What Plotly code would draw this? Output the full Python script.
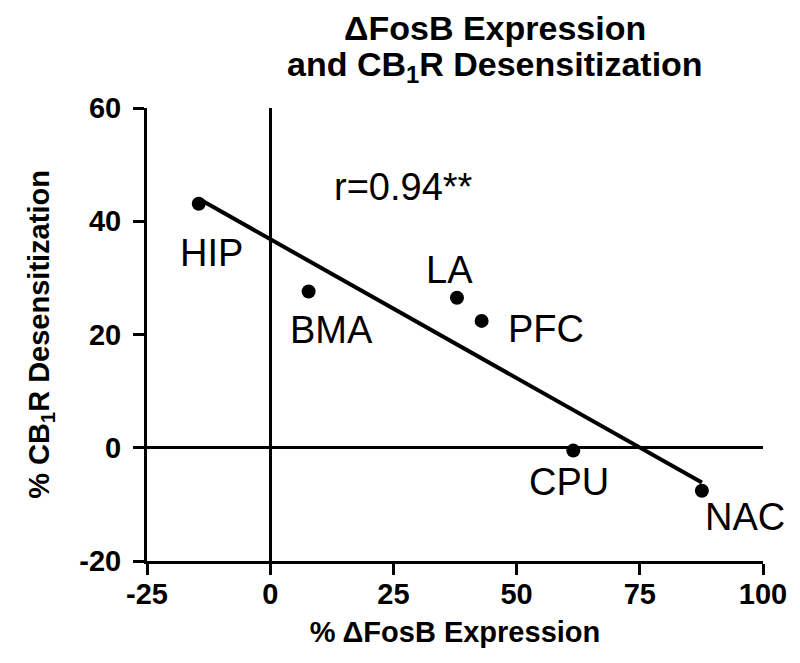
import numpy as np
import plotly.graph_objects as go

# brain regions, % deltaFosB expression vs % CB1R desensitization
regions = ["HIP", "BMA", "LA", "PFC", "CPU", "NAC"]
fosb = [-14.5, 7.8, 37.9, 42.9, 61.5, 87.6]
cb1r = [43.1, 27.6, 26.5, 22.4, -0.5, -7.6]
x_ticks = [-25, 0, 25, 50, 75, 100]
x_ticktext = ["-25", "0", "25", "50", "75", "100"]
y_ticks = [-20, 0, 20, 40, 60]
y_ticktext = ["-20", "0", "20", "40", "60"]
r_text = "r=0.94**"
title_lines = ["\u0394FosB Expression", "and CB<sub>1</sub>R Desensitization"]

# label offsets in px (dx, dy)
label_shift = {"HIP": (13, -49), "BMA": (23, -39), "LA": (-7, 28),
               "PFC": (64, -8), "CPU": (-4, -31), "NAC": (43, -26)}

FONT = "Liberation Sans, Arial, sans-serif"

slope, icept = np.polyfit(fosb, cb1r, 1)
fit_x = np.array([min(fosb), max(fosb)])
fit_y = slope * fit_x + icept

fig = go.Figure()
fig.add_trace(go.Scatter(x=fit_x, y=fit_y, mode="lines",
                         line=dict(color="black", width=4), hoverinfo="skip"))
fig.add_trace(go.Scatter(x=fosb, y=cb1r, mode="markers", text=regions,
                         marker=dict(color="black", size=14)))

for name, xv, yv in zip(regions, fosb, cb1r):
    dx, dy = label_shift[name]
    fig.add_annotation(x=xv, y=yv, text=name, showarrow=False,
                       xshift=dx, yshift=dy,
                       font=dict(family=FONT, size=38, color="black"))

fig.add_annotation(x=27, y=46, text=r_text, showarrow=False,
                   font=dict(family=FONT, size=38, color="black"))

# two-line chart title, one annotation per line for tighter spacing
for line, shift in zip(title_lines, [80, 42]):
    fig.add_annotation(x=0.565, y=1, xref="paper", yref="paper",
                       xanchor="center", yanchor="middle", yshift=shift,
                       text=line, showarrow=False,
                       font=dict(family=FONT, size=34, color="black", weight="bold"))

axis_common = dict(showline=True, linecolor="black", linewidth=3,
                   ticks="outside", tickwidth=3, tickcolor="black",
                   showgrid=False, zeroline=True, zerolinecolor="black",
                   zerolinewidth=2.5,
                   tickfont=dict(family=FONT, size=29, color="black", weight="bold"),
                   title_font=dict(family=FONT, size=29, color="black", weight="bold"))

fig.update_xaxes(range=[-25, 100], tickvals=x_ticks, ticktext=x_ticktext,
                 ticklen=11, ticklabelstandoff=-6,
                 title_text="% \u0394FosB Expression", title_standoff=13,
                 **axis_common)
fig.update_yaxes(range=[-20, 60], tickvals=y_ticks, ticktext=y_ticktext,
                 ticklen=11, ticklabelstandoff=6,
                 title_text="% CB<sub>1</sub>R Desensitization", title_standoff=22,
                 **axis_common)

fig.update_layout(
    width=800, height=663,
    margin=dict(l=139, r=45, t=100, b=110),
    paper_bgcolor="white", plot_bgcolor="white",
    showlegend=False,
)

fig.write_html("out.html")
